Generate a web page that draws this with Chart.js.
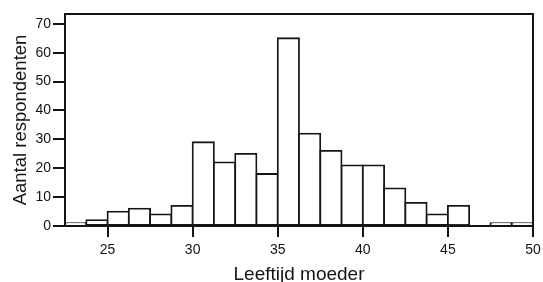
<!DOCTYPE html>
<html>
<head>
<meta charset="utf-8">
<script src="https://cdn.jsdelivr.net/npm/chart.js@4.4.1/dist/chart.umd.min.js"></script>
<style>
  html, body { margin: 0; padding: 0; background: #fff; }
  #wrap { width: 543px; height: 282px; position: relative; }
</style>
</head>
<body>
<div id="wrap"><canvas id="myhistogram"></canvas></div>
<script>
// histogram data (age of mother, bin width 1.25 years)
const binStarts = [22.5, 23.75, 25, 26.25, 27.5, 28.75, 30, 31.25, 32.5, 33.75, 35,
                   36.25, 37.5, 38.75, 40, 41.25, 42.5, 43.75, 45, 46.25, 47.5, 48.75]
const binWidth = 1.25
const counts = [1, 2, 5, 6, 4, 7, 29, 22, 25, 18, 65, 32, 26, 21, 21, 13, 8, 4, 7, 0, 1, 1]
const xTicks = [25, 30, 35, 40, 45, 50]
const yTicks = [0, 10, 20, 30, 40, 50, 60, 70]

const ink = '#141414'
const lineW = 2
const fontFam = '"Liberation Sans", Arial, sans-serif'

// frame round the plot area
const framePlugin = {
	id: 'frame',
	afterDraw(chart) {
		const {ctx, chartArea} = chart
		ctx.save()
		ctx.strokeStyle = ink
		ctx.lineWidth = lineW
		ctx.strokeRect(chartArea.left, chartArea.top, chartArea.right - chartArea.left, chartArea.bottom - chartArea.top)
		ctx.restore()
	}
}

function drawhistogram(){
	const canvas = document.getElementById("myhistogram")
	let points = []
	for (let i = 0; i < counts.length; i++) {
		points.push({x: binStarts[i] + binWidth / 2, y: counts[i]})
	}
	new Chart(canvas, {
		type: 'bar',
		data: {
			datasets: [{
				data: points,
				backgroundColor: '#ffffff',
				borderColor: ink,
				borderWidth: 1.8,
				borderSkipped: false,
				inflateAmount: 0.9,
				barPercentage: 1,
				categoryPercentage: 1
			}]
		},
		options: {
			responsive: true,
			maintainAspectRatio: false,
			animation: false,
			layout: { padding: { top: 14, right: 10, left: 0, bottom: 0 } },
			plugins: { legend: { display: false }, tooltip: { enabled: false } },
			scales: {
				x: {
					type: 'linear',
					min: 22.5,
					max: 50,
					offset: false,
					grid: { offset: false, drawOnChartArea: false, drawTicks: true, tickLength: 11, color: ink, lineWidth: lineW },
					border: { display: true, color: ink, width: lineW },
					afterBuildTicks: function(scale) { scale.ticks = xTicks.map(v => ({value: v})) },
					afterFit: function(scale) {
						scale.height = 56
						scale.paddingLeft = 0
						scale.paddingRight = 0
					},
					ticks: { color: ink, padding: 5, maxRotation: 0, font: { family: fontFam, size: 14 } },
					title: { display: true, text: 'Leeftijd moeder', color: ink, padding: { top: 0, bottom: 0 },
						font: { family: fontFam, size: 19, lineHeight: 0.8 } }
				},
				y: {
					min: 0,
					max: 73.4,
					grid: { drawOnChartArea: false, drawTicks: true, tickLength: 12, color: ink, lineWidth: lineW },
					border: { display: true, color: ink, width: lineW },
					afterBuildTicks: function(scale) { scale.ticks = yTicks.map(v => ({value: v})) },
					afterFit: function(scale) {
						scale.width = 65
						scale.paddingTop = 0
						scale.paddingBottom = 0
					},
					ticks: { color: ink, padding: 2, font: { family: fontFam, size: 14 } },
					title: { display: true, text: 'Aantal respondenten', color: ink, padding: { top: 10, bottom: 0 },
						font: { family: fontFam, size: 18.5 } }
				}
			}
		},
		plugins: [framePlugin]
	})
}

drawhistogram()
</script>
</body>
</html>
